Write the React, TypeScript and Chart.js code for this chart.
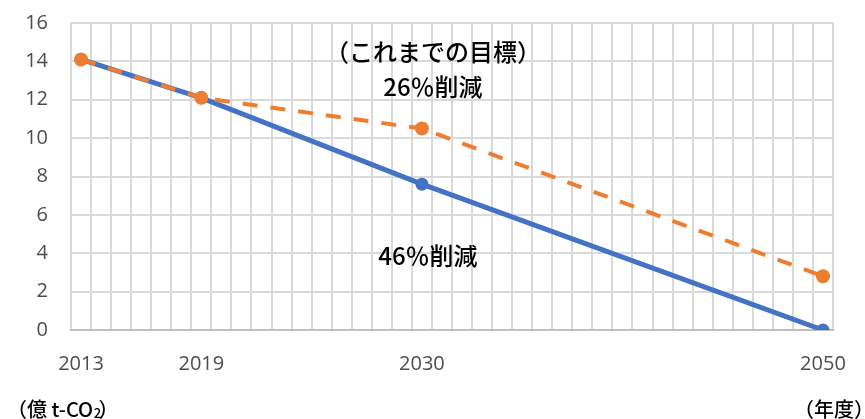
import React, { useEffect, useRef } from "react";
import { Chart, registerables } from "chart.js";

Chart.register(...registerables);

// Years 2013..2050 (category axis)
const startYear = 2013;
const endYear = 2050;
const years: string[] = [];
for (let y = startYear; y <= endYear; y++) years.push(String(y));

const shownYearLabels = ["2013", "2019", "2030", "2050"];

const newTargetYears = ["2013", "2019", "2030", "2050"];
const newTargetValues = [14.1, 12.1, 7.6, 0];

const oldTargetYears = ["2013", "2019", "2030", "2050"];
const oldTargetValues = [14.1, 12.1, 10.5, 2.8];

const yTicks = [0, 2, 4, 6, 8, 10, 12, 14, 16];

const annotations = [
  { text: "（これまでの目標）", year: "2030", value: 14.48, dx: 11 },
  { text: "26％削減", year: "2030", value: 12.66, dx: 11 },
  { text: "46％削減", year: "2030", value: 3.84, dx: 6 },
];

const yUnitMain = "（億 t-CO";
const yUnitSub = "2";
const yUnitEnd = "）";
const xUnitLabel = "（年度）";

export default function App() {
  const ref = useRef<HTMLCanvasElement | null>(null);

  useEffect(() => {
    document.body.style.margin = "0";
    const canvas = ref.current;
    if (!canvas) return;

    const textPlugin = {
      id: "textPlugin",
      afterDraw(chart: any) {
        const ctx = chart.ctx;
        const xs = chart.scales.x;
        const ys = chart.scales.y;
        ctx.save();
        ctx.fillStyle = "#000000";
        ctx.font = '500 24px "Noto Sans CJK JP"';
        ctx.textAlign = "center";
        ctx.textBaseline = "middle";
        for (const a of annotations) {
          const x = xs.getPixelForValue(years.indexOf(a.year)) + a.dx;
          const y = ys.getPixelForValue(a.value);
          ctx.fillText(a.text, x, y);
        }
        // y unit label with subscript
        ctx.textAlign = "left";
        ctx.font = '500 20px "Noto Sans CJK JP"';
        let x = 7;
        ctx.fillText(yUnitMain, x, 409);
        x += ctx.measureText(yUnitMain).width;
        ctx.font = '500 13px "Noto Sans CJK JP"';
        ctx.fillText(yUnitSub, x + 0.5, 413);
        x += ctx.measureText(yUnitSub).width + 1;
        ctx.font = '500 20px "Noto Sans CJK JP"';
        ctx.fillText(yUnitEnd, x - 3, 409);
        ctx.textAlign = "right";
        ctx.fillText(xUnitLabel, 874, 409);
        ctx.restore();
      },
    };

    const chart = new Chart(canvas, {
      type: "line",
      data: {
        labels: years,
        datasets: [
          {
            label: "これまでの目標",
            data: oldTargetYears.map((yr, i) => ({ x: yr, y: oldTargetValues[i] })),
            borderColor: "#ED7D31",
            backgroundColor: "#ED7D31",
            borderWidth: 4,
            borderDash: [15, 13],
            pointRadius: 7,
            pointHoverRadius: 7,
            pointBorderWidth: 0,
            tension: 0,
          },
          {
            label: "46%削減",
            data: newTargetYears.map((yr, i) => ({ x: yr, y: newTargetValues[i] })),
            borderColor: "#4472C4",
            backgroundColor: "#4472C4",
            borderWidth: 5,
            pointRadius: 6.5,
            pointHoverRadius: 6.5,
            pointBorderWidth: 0,
            tension: 0,
          },
        ],
      },
      options: {
        responsive: false,
        animation: false,
        events: [],
        layout: { padding: { top: 23, right: 32, left: 0, bottom: 0 } },
        plugins: {
          legend: { display: false },
          tooltip: { enabled: false },
          title: { display: false },
        },
        scales: {
          x: {
            type: "category",
            offset: true,
            grid: {
              offset: true,
              color: "#D9D9D9",
              lineWidth: 2,
              drawTicks: false,
            },
            border: { display: true, color: "#BFBFBF", width: 2 },
            ticks: {
              autoSkip: false,
              maxRotation: 0,
              padding: 22,
              color: "#4D4D4D",
              font: { family: "Open Sans", size: 20 },
              callback: function (this: any, value: any) {
                const lab = years[value as number];
                return shownYearLabels.includes(lab) ? lab : "";
              },
            },
            afterFit(scale: any) {
              scale.height = 89;
              scale.paddingLeft = 0;
              scale.paddingRight = 0;
            },
          },
          y: {
            min: 0,
            max: 16,
            afterBuildTicks(scale: any) {
              scale.ticks = yTicks.map((v) => ({ value: v }));
            },
            grid: { color: "#D9D9D9", lineWidth: 2, drawTicks: false },
            border: { display: false },
            ticks: {
              padding: 23,
              color: "#4D4D4D",
              font: { family: "Open Sans", size: 20 },
            },
            afterFit(scale: any) {
              scale.width = 71;
              scale.paddingTop = 0;
              scale.paddingBottom = 0;
            },
          },
        },
      },
      plugins: [textPlugin],
    });

    return () => chart.destroy();
  }, []);

  return (
    <div style={{ width: 865, height: 419 }}>
      <canvas ref={ref} width={865} height={419} />
    </div>
  );
}
